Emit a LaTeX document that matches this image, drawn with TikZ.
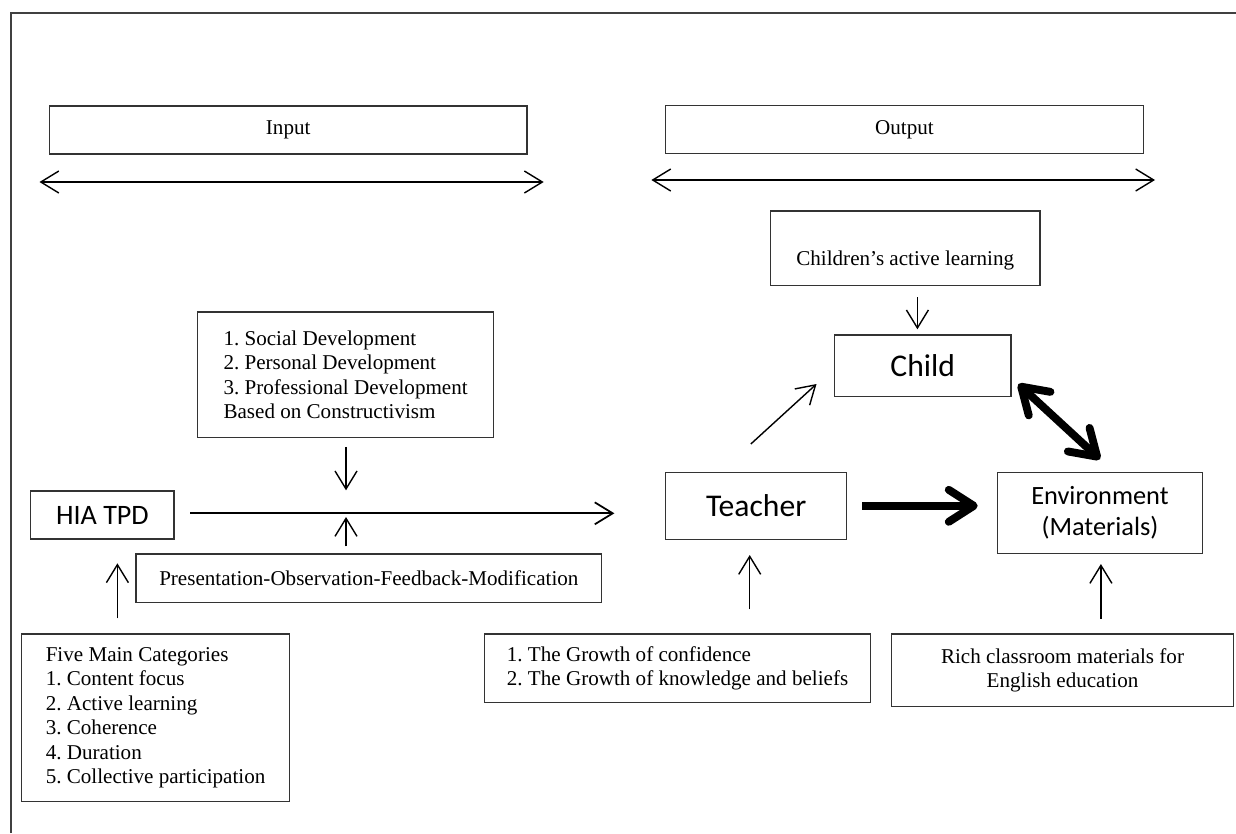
\documentclass[tikz,border=0pt]{standalone}
\usepackage{fontspec}
\setmainfont{Liberation Serif}
\newfontfamily\calibri{Carlito}
\usetikzlibrary{arrows.meta,calc}
\def\tnr{\fontsize{12}{13.9}\selectfont\frenchspacing}
\def\cal#1{\calibri\fontsize{#1}{18}\selectfont}

\tikzset{
	barb/.tip={Straight Barb[length=3.6mm,width=4.4mm]},
	fatbarb/.tip={Straight Barb[round,length=5mm,width=6.4mm]},
	box/.style={draw=black!80, line width=0.7pt, inner sep=0pt, align=center, font=\tnr},
	listbox/.style={box, align=left},
	flow/.style={line width=0.8pt, -barb},
	twoway/.style={line width=0.8pt, barb-barb},
	heavy/.style={line width=4.5pt, -fatbarb}
}

\begin{document}
\begin{tikzpicture}[x=0.02cm, y=-0.02cm]
			%%%%% START %%%%%
			\useasboundingbox (0,0) rectangle (1236,833);
			
			\draw[line width=1pt, color=black!75] (10.7,833) -- (10.7,13.3) -- (1236,13.3);
			
			\node[box, minimum width=9.55cm, minimum height=0.96cm] (input) at (288.2,130) {Input};
			\node[box, minimum width=9.55cm, minimum height=0.95cm] (output) at (904.5,129.5) {Output};
			
			\coordinate (inL) at (39.5,182);
			\coordinate (inR) at (543.7,182);
			\coordinate (outL) at (651.4,180);
			\coordinate (outR) at (1155,180);
			\draw[twoway] (inL) -- (inR);
			\draw[twoway] (outL) -- (outR);
			
			\node[listbox, minimum width=5.916cm, minimum height=2.506cm] (social) at (345.6,374.7)
				{1. Social Development\\2. Personal Development\\3. Professional Development\\Based on Constructivism};
			
			\node[box, minimum width=2.864cm, minimum height=0.96cm, font=\cal{16}] (hia) at (102.4,515) {HIA TPD};
			\node[box, minimum width=9.314cm, minimum height=0.974cm] (pofm) at (368.85,578.35)
				{Presentation-Observation-Feedback-Modification};
			
			\node[listbox, minimum width=5.354cm, minimum height=3.354cm] (five) at (155.55,717.85)
				{Five Main Categories\\1. Content focus\\2. Active learning\\3. Coherence\\4. Duration\\5. Collective participation};
			
			\node[box, minimum width=5.39cm, inner ysep=0pt, text height=1.094cm, text depth=0.4cm] (children) at (905.25,248.35)
				{Children’s active learning};
			\node[box, minimum width=3.53cm, minimum height=1.234cm, font=\cal{18}] (child) at (922.75,365.85) {Child};
			\node[box, minimum width=3.622cm, minimum height=1.34cm, font=\cal{18}] (teacher) at (756.15,505.8) {Teacher};
			\node[box, minimum width=4.094cm, minimum height=1.62cm, font=\cal{15}] (env) at (1099.95,512.8)
				{Environment\\(Materials)};
			
			\node[listbox, minimum width=7.726cm, minimum height=1.374cm] (growth) at (677.55,668.35)
				{1. The Growth of confidence\\2. The Growth of knowledge and beliefs};
			\node[box, minimum width=6.828cm, minimum height=1.454cm] (rich) at (1062.5,670.35)
				{Rich classroom materials for\\English education};
			
			\coordinate (meet) at (346,513.3);
			\coordinate (hiaIn) at (117.4,563.3);
			\coordinate (teachIn) at (749.7,555);
			\coordinate (envIn) at (1100.9,564);
			\coordinate (childIn) at (917.4,329.3);
			\coordinate (tcA) at (750.8,444);
			\coordinate (tcB) at (816.5,384);
			\coordinate (ceA) at (1018.3,384);
			\coordinate (ceB) at (1100,459.3);
			
			\draw[flow, line width=1pt, shorten <=0.316cm, shorten >=1.012cm] (hia.east |- meet) -- (teacher.west |- meet);
			\draw[flow, shorten <=0.18cm, shorten >=0.46cm] (social.south -| meet) -- (meet);
			\draw[flow, shorten <=0.14cm, shorten >=0.074cm] (pofm.north -| meet) -- (meet);
			\draw[flow, shorten <=0.3cm] (five.north -| hiaIn) -- (hiaIn);
			\draw[flow, shorten <=0.48cm] (growth.north -| teachIn) -- (teachIn);
			\draw[flow, shorten <=0.294cm] (rich.north -| envIn) -- (envIn);
			\draw[flow, shorten <=0.214cm] (children.south -| childIn) -- (childIn);
			\draw[flow] (tcA) -- (tcB);
			
			\draw[heavy, shorten <=0.3cm, shorten >=0.386cm] (teacher.east) -- (env.west |- teacher.east);
			\draw[heavy, fatbarb-fatbarb] (ceA) -- (ceB);
			
			%%%%% END %%%%%
\end{tikzpicture}
\end{document}
